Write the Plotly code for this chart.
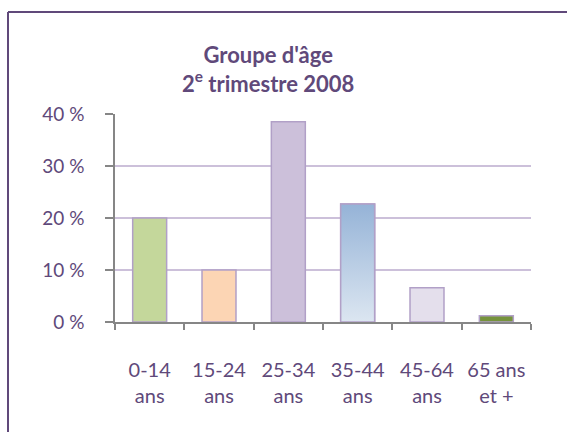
import plotly.graph_objects as go

categories = ["0-14<br>ans", "15-24<br>ans", "25-34<br>ans", "35-44<br>ans", "45-64<br>ans", "65 ans<br>et +"]
values = [20.0, 10.0, 38.5, 22.7, 6.6, 1.2]
bar_colors = ["#C4D79B", "#FCD5B4", "#CCC0DA", "#B8CCE4", "#E4DFEC", "#76933C"]
gradient_index = 3
gradient_colors = ["#DCE6F1", "#95B3D7"]
y_ticks = [0, 10, 20, 30, 40]
y_tick_labels = ["0 %", "10 %", "20 %", "30 %", "40 %"]

TXT = "#60497A"
FONT = "Lato"
BAR_W = 0.49

fig = go.Figure()
fig.add_trace(go.Bar(
    x=categories, y=values, width=BAR_W,
    marker=dict(color=bar_colors, line=dict(color="#B1A0C7", width=1.5)),
    hoverinfo="skip",
))

# gradient fill for the 35-44 bar, drawn on an overlaid numeric axis
gi, gv = gradient_index, values[gradient_index]
hw = BAR_W / 2
fig.add_trace(go.Scatter(
    x=[gi - hw, gi + hw, gi + hw, gi - hw, gi - hw],
    y=[0, 0, gv, gv, 0],
    xaxis="x2", mode="lines", fill="toself",
    fillgradient=dict(type="vertical",
                      colorscale=[[0, gradient_colors[0]], [1, gradient_colors[1]]]),
    line=dict(color="#B1A0C7", width=1.5),
    hoverinfo="skip",
))

W, H = 567, 432
ml, mr, mt, mb = 115, 36, 114, 110
pw, ph = W - ml - mr, H - mt - mb

def px_x(x):
    return (x - ml) / pw

def px_y(y):
    return 1 - (y - mt) / ph

fig.update_layout(
    width=W, height=H,
    margin=dict(l=ml, r=mr, t=mt, b=mb, pad=0),
    paper_bgcolor="white", plot_bgcolor="white",
    showlegend=False,
    font=dict(family=FONT, color=TXT),
    xaxis=dict(
        showline=True, linecolor="#868686", linewidth=2,
        ticks="outside", ticklen=6, tickcolor="#868686", tickwidth=1.5,
        tickson="boundaries", tickfont=dict(size=20, color=TXT),
        ticklabelstandoff=29,
    ),
    xaxis2=dict(
        overlaying="x", range=[-0.5, len(categories) - 0.5],
        visible=False, showgrid=False, zeroline=False,
    ),
    yaxis=dict(
        range=[0, 40], tickvals=y_ticks, ticktext=y_tick_labels,
        showline=True, linecolor="#868686", linewidth=1.5,
        ticks="outside", ticklen=8, tickcolor="#868686", tickwidth=1.5,
        showgrid=True, gridcolor="#CCC0DA", gridwidth=2,
        tickfont=dict(size=19, color=TXT), ticklabelstandoff=17,
        zeroline=False,
    ),
    shapes=[
        dict(type="line", xref="paper", yref="paper",
             x0=px_x(8), x1=px_x(580), y0=px_y(12), y1=px_y(12),
             line=dict(color="#60497A", width=2)),
        dict(type="line", xref="paper", yref="paper",
             x0=px_x(8), x1=px_x(8), y0=px_y(12), y1=px_y(450),
             line=dict(color="#60497A", width=2)),
    ],
    annotations=[
        dict(text="Groupe d'âge<br>2<sup>e</sup> trimestre 2008",
             xref="paper", yref="paper", x=px_x(268), y=px_y(69),
             xanchor="center", yanchor="middle", showarrow=False,
             font=dict(family=FONT, size=22, color=TXT, weight="bold")),
    ],
)

fig.write_html("out.html", config={"displayModeBar": False},
               post_script="document.body.style.margin='0';")
